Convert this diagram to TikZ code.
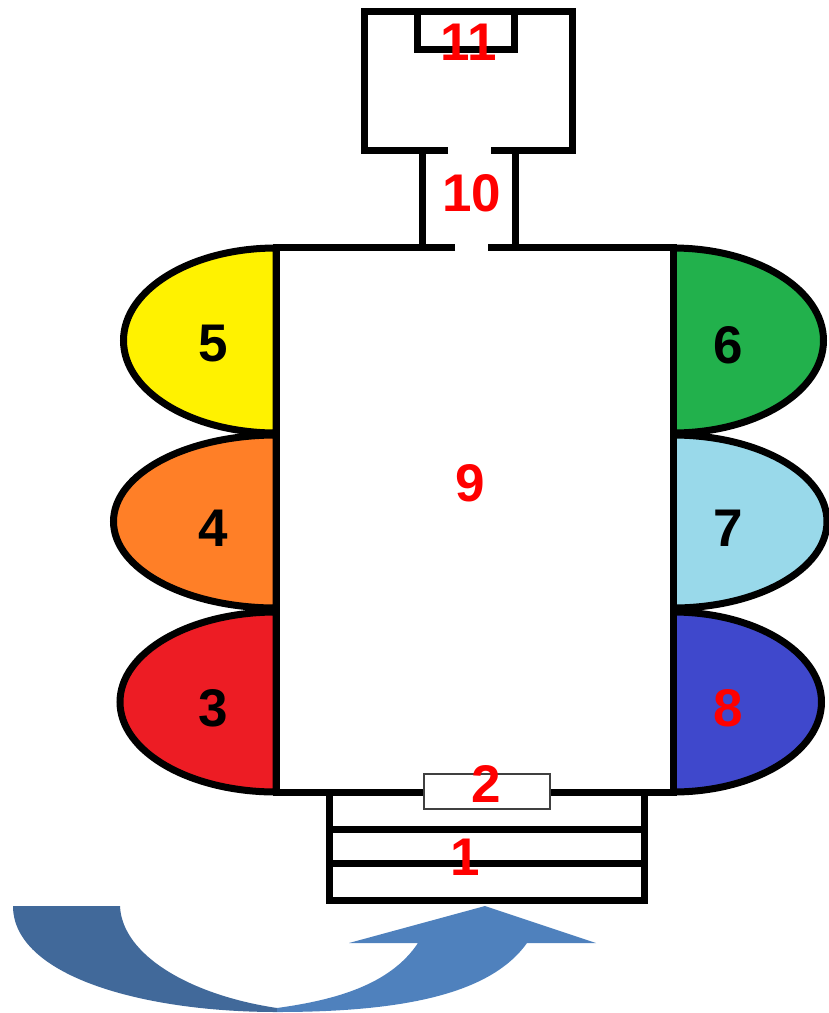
\documentclass[tikz,border=0pt]{standalone}
\usepackage{fontspec}
\setmainfont{Liberation Sans}
\definecolor{cyellow}{HTML}{FFF200}
\definecolor{corange}{HTML}{FF7F27}
\definecolor{cred}{HTML}{ED1C24}
\definecolor{cgreen}{HTML}{22B14C}
\definecolor{clblue}{HTML}{99D9EA}
\definecolor{cblue}{HTML}{3F48CC}
\definecolor{arrowdark}{HTML}{41699A}
\definecolor{arrowlight}{HTML}{4F81BD}
\definecolor{lblred}{HTML}{FF0000}
\begin{document}
\begin{tikzpicture}[x=1pt,y=-1pt,
  wall/.style={line width=7pt,draw=black,line join=miter},
  lobe/.style={line width=7pt,draw=black},
  lbl/.style={font=\fontsize{53}{60}\selectfont\bfseries,inner sep=0pt},
  redlbl/.style={lbl,text=lblred},
  blacklbl/.style={lbl,text=black}]
\useasboundingbox (0,0) rectangle (829,1013);
% left lobes
\filldraw[lobe,fill=cyellow] (276,433) arc[start angle=90,end angle=270,x radius=152.5,y radius=92.5] -- cycle;
\filldraw[lobe,fill=corange] (276,608) arc[start angle=90,end angle=270,x radius=162.5,y radius=86.5] -- cycle;
\filldraw[lobe,fill=cred] (276,792) arc[start angle=90,end angle=270,x radius=156,y radius=90] -- cycle;
% right lobes
\filldraw[lobe,fill=cgreen] (673,248) arc[start angle=-90,end angle=90,x radius=150.5,y radius=92.5] -- cycle;
\filldraw[lobe,fill=clblue] (673,435) arc[start angle=-90,end angle=90,x radius=154,y radius=86.5] -- cycle;
\filldraw[lobe,fill=cblue] (673,612) arc[start angle=-90,end angle=90,x radius=148.5,y radius=90] -- cycle;
% main box 9
\fill[white] (276,247) rectangle (673,792);
\draw[wall] (455,247) -- (276,247) -- (276,792) -- (673,792) -- (673,247) -- (488,247);
% neck 10
\draw[wall] (422,247) -- (422,150);
\draw[wall] (515,247) -- (515,150);
% top box 11
\draw[wall] (448,150) -- (364,150) -- (364,11) -- (572,11) -- (572,150) -- (491,150);
\draw[wall] (417,11) -- (417,49) -- (514,49) -- (514,11);
% box 1
\draw[wall] (329,792) -- (329,900) -- (644,900) -- (644,792);
\draw[wall] (329,829) -- (644,829);
\draw[wall] (329,863) -- (644,863);
% box 2
\filldraw[fill=white,draw=black!75,line width=1.2pt] (424,774) rectangle (550,809);
% curved arrow
\fill[arrowdark] (13,906) -- (120,906) .. controls (122,955) and (190,995) .. (277,1008)
  -- (277,1012) .. controls (140,1012) and (13,975) .. cycle;
\fill[arrowlight] (277,1008) .. controls (335,1000) and (390,985) .. (418,943)
  -- (349,943) -- (485,906) -- (596,943) -- (527,943)
  .. controls (490,995) and (400,1012) .. (277,1012) -- cycle;
% labels
\node[redlbl] (n11) at (469,42) {11};
\node[redlbl] (n10) at (472,193) {10};
\node[redlbl] (n9) at (470,483) {9};
\node[redlbl] (n2) at (486,784) {2};
\node[redlbl] (n1) at (465,857) {1};
\node[blacklbl] (n5) at (213,344) {5};
\node[blacklbl] (n4) at (213,528) {4};
\node[blacklbl] (n3) at (213,708) {3};
\node[blacklbl] (n6) at (728,345) {6};
\node[blacklbl] (n7) at (728,528) {7};
\node[redlbl] (n8) at (728,708) {8};
\end{tikzpicture}
\end{document}
